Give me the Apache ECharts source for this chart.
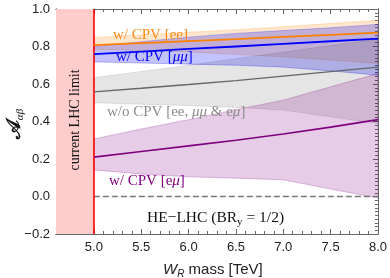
<!DOCTYPE html>
<html><head><meta charset="utf-8">
<script src="https://cdn.jsdelivr.net/npm/echarts@6/dist/echarts.min.js"></script>
<style>html,body{margin:0;padding:0;background:#fff}#c{width:390px;height:278px}</style>
</head><body><div id="c"></div>
<script>
// tick labels
const massTicks = [5.0, 5.5, 6.0, 6.5, 7.0, 7.5, 8.0];
const aTicks = [-0.2, 0.0, 0.2, 0.4, 0.6, 0.8, 1.0];
// W_R mass grid (TeV)
const mass = [5.0, 5.5, 6.0, 6.5, 7.0, 7.5, 8.0];
// w/ CPV [ee]
const eeCentral = [0.807, 0.818, 0.829, 0.839, 0.851, 0.862, 0.874];
const eeUpper   = [0.848, 0.862, 0.876, 0.889, 0.906, 0.923, 0.940];
const eeLower   = [0.785, 0.779, 0.771, 0.758, 0.745, 0.728, 0.710];
// w/ CPV [mumu]
const mmCentral = [0.759, 0.773, 0.787, 0.800, 0.814, 0.828, 0.842];
const mmUpper   = [0.800, 0.826, 0.850, 0.870, 0.885, 0.900, 0.918];
const mmLower   = [0.718, 0.712, 0.706, 0.700, 0.690, 0.670, 0.647];
// w/o CPV [ee, mumu & emu]
const noCentral = [0.558, 0.577, 0.597, 0.618, 0.642, 0.666, 0.690];
const noUpper   = [0.633, 0.667, 0.700, 0.735, 0.770, 0.805, 0.840];
const noLower   = [0.500, 0.492, 0.485, 0.475, 0.461, 0.425, 0.390];
// w/ CPV [emu]
const emCentral = [0.210, 0.240, 0.270, 0.300, 0.333, 0.370, 0.410];
const emUpper   = [0.307, 0.360, 0.410, 0.463, 0.514, 0.585, 0.656];
const emLower   = [0.142, 0.120, 0.105, 0.098, 0.089, 0.040, -0.008];
// current LHC limit
const lhcLimit = 5.0;
const xMin = 4.6, xMax = 8.0, yMin = -0.2, yMax = 1.0;
const minorX = []; for (let k = 46; k <= 80; k++) minorX.push(k / 10);
const minorY = []; for (let k = -10; k <= 50; k++) minorY.push(k / 50);

const chart = echarts.init(document.getElementById('c'), null, {renderer: 'canvas'});
const frame = '#666';
const sans = '"Liberation Sans", Arial, sans-serif';
const serif = '"Liberation Serif", "Times New Roman", serif';

function xAx(pos, ticks, len, labels) {
  return {type: 'value', min: xMin, max: xMax, position: pos,
    axisLine: {show: true, onZero: false, lineStyle: {color: frame, width: 1}},
    axisTick: {show: true, inside: true, length: len, customValues: ticks, lineStyle: {color: frame}},
    axisLabel: labels ? {show: true, customValues: massTicks, formatter: v => v.toFixed(1), color: '#222', fontSize: 13, fontFamily: sans, margin: 7} : {show: false},
    splitLine: {show: false}};
}
function yAx(pos, ticks, len, labels) {
  return {type: 'value', min: yMin, max: yMax, position: pos,
    axisLine: {show: true, onZero: false, lineStyle: {color: frame, width: 1}},
    axisTick: {show: true, inside: true, length: len, customValues: ticks, lineStyle: {color: frame}},
    axisLabel: labels ? {show: true, customValues: aTicks, formatter: v => (v < 0 ? '\u2212' : '') + Math.abs(v).toFixed(1), color: '#222', fontSize: 13, fontFamily: sans, margin: 6} : {show: false},
    splitLine: {show: false}};
}

function band(up, lo, fill, edge) {
  return {type: 'custom', xAxisIndex: 0, yAxisIndex: 0, clip: true, silent: true,
    data: [0],
    renderItem: (params, api) => {
      const pts = [];
      for (let i = 0; i < mass.length; i++) pts.push(api.coord([mass[i], up[i]]));
      for (let i = mass.length - 1; i >= 0; i--) pts.push(api.coord([mass[i], lo[i]]));
      return {type: 'polygon', shape: {points: pts}, style: {fill: fill, stroke: edge, lineWidth: 0.8}};
    }};
}
function line(vals, color, w) {
  return {type: 'line', xAxisIndex: 0, yAxisIndex: 0, data: mass.map((m, i) => [m, vals[i]]),
    showSymbol: false, symbol: 'none', lineStyle: {color: color, width: w}, silent: true, z: 5};
}
function label(txt, x, y, color, size) {
  return {type: 'text', left: x, top: y, z: 100, style: {text: txt, fill: color, fontSize: size, fontFamily: serif,
    rich: {i: {fontStyle: 'italic', fontSize: size, fontFamily: serif, fill: color},
           s: {fontSize: Math.round(size * 0.68), fontFamily: serif, fill: color, padding: [Math.round(size * 0.55), 0, 0, 0]}}}};
}

const option = {
  animation: false,
  backgroundColor: '#fff',
  grid: {left: 56, right: 11, top: 9, bottom: 44, containLabel: false},
  xAxis: [xAx('bottom', massTicks, 5, true), xAx('bottom', minorX, 3, false), xAx('top', massTicks, 5, false), xAx('top', minorX, 3, false)],
  yAxis: [yAx('left', aTicks, 5, true), yAx('left', minorY, 3, false), yAx('right', aTicks, 5, false), yAx('right', minorY, 3, false)],
  series: [
    {type: 'line', xAxisIndex: 0, yAxisIndex: 0, data: [], silent: true,
      markArea: {silent: true, itemStyle: {color: '#ffcccc'}, data: [[{xAxis: xMin, yAxis: yMin}, {xAxis: lhcLimit, yAxis: yMax}]]},
      markLine: {silent: true, symbol: 'none', label: {show: false}, lineStyle: {color: '#ff0000', width: 1.6, type: 'solid'}, data: [{xAxis: lhcLimit}]}},
    band(eeUpper, eeLower, 'rgba(255,128,0,0.2)', 'rgba(255,128,0,0.25)'),
    band(mmUpper, mmLower, 'rgba(0,0,255,0.24)', 'rgba(0,0,255,0.3)'),
    band(noUpper, noLower, 'rgba(0,0,0,0.1)', 'rgba(0,0,0,0.12)'),
    band(emUpper, emLower, 'rgba(128,0,128,0.2)', 'rgba(128,0,128,0.3)'),
    {type: 'line', xAxisIndex: 0, yAxisIndex: 0, data: [[lhcLimit, 0], [xMax, 0]], showSymbol: false, symbol: 'none',
      lineStyle: {color: '#7a7a7a', width: 1.3, type: [6, 3]}, silent: true, z: 4},
    line(eeCentral, '#ff7f00', 1.8),
    line(mmCentral, '#0000ff', 1.8),
    line(noCentral, '#666666', 1.4),
    line(emCentral, '#800080', 1.6)
  ],
  graphic: [
    label('w/ CPV [ee]', 113, 28, '#ff8a1a', 15),
    label('w/ CPV [{i|μμ}]', 116, 50, '#0000ff', 15),
    label('w/o CPV [ee, {i|μμ} & e{i|μ}]', 107, 105, '#8c8c8c', 15),
    label('w/ CPV [e{i|μ}]', 109, 174, '#800080', 15),
    label('HE\u2212LHC (BR{s|y} = 1/2)', 147, 210, '#111', 15.5),
    {type: 'text', x: 75, y: 120, rotation: Math.PI / 2, z: 100, style: {text: 'current LHC limit', fill: '#111', fontSize: 14, fontFamily: serif, align: 'center', verticalAlign: 'middle'}},
    {type: 'text', left: 163, top: 262, z: 100, style: {text: '{i|W}{s|R} mass [TeV]', fill: '#222', fontSize: 15, fontFamily: sans,
      rich: {i: {fontStyle: 'italic', fontSize: 15, fontFamily: sans, fill: '#222'}, s: {fontStyle: 'italic', fontSize: 10, fontFamily: sans, fill: '#222', padding: [9, 0, 0, 0]}}}},
    {type: 'text', x: 15, y: 124, rotation: Math.PI / 2, z: 100, style: {text: '{a|𝒜}{s|αβ}', fill: '#111', align: 'center', verticalAlign: 'middle',
      rich: {a: {fontSize: 20, fontFamily: '"DejaVu Serif", "DejaVu Sans", serif', fill: '#111', fontWeight: 'bold'}, s: {fontSize: 11, fontStyle: 'italic', fontFamily: serif, fill: '#111', padding: [11, 0, 0, 0]}}}}
  ]
};
chart.setOption(option);
</script>
</body></html>
